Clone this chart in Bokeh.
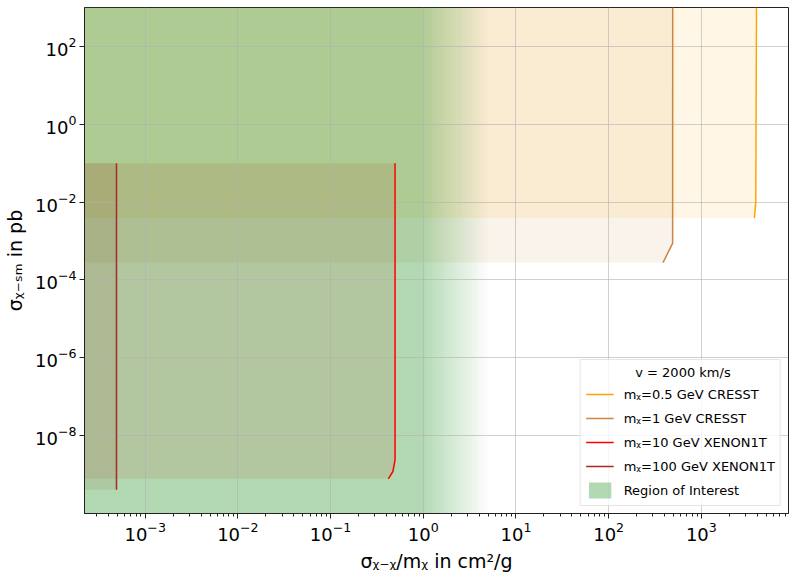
import numpy as np
from bokeh.plotting import figure
from bokeh.models import FixedTicker, Legend, LegendItem, Range1d
from bokeh.embed import file_html
from bokeh.resources import INLINE

# ---- data ----
cresst_05_x = [3936, 3866, 3740]
cresst_05_y = [1e3, 1e-2, 3.9e-3]
cresst_1_x = [491, 490, 386]
cresst_1_y = [1e3, 8.7e-4, 2.8e-4]
xenon_10_x = [0.496, 0.496, 0.47, 0.42]
xenon_10_y = [0.1, 2.4e-9, 1.2e-9, 7.8e-10]
xenon_100_x = [4.9e-4, 4.9e-4]
xenon_100_y = [0.1, 4.1e-10]
roi_x_end = 1.0          # solid region of interest up to here
roi_x_fade = 5.2         # fades out by here
roi_y = [1e-10, 1e3]

labels = ["mᵪ=0.5 GeV CRESST", "mᵪ=1 GeV CRESST", "mᵪ=10 GeV XENON1T", "mᵪ=100 GeV XENON1T"]
legend_title = "v = 2000 km/s"
colors = ["#FFA500", "#CD853F", "#FF0000", "#A52A2A"]
curves = [(cresst_05_x, cresst_05_y), (cresst_1_x, cresst_1_y),
          (xenon_10_x, xenon_10_y), (xenon_100_x, xenon_100_y)]

x_major = [1e-3, 1e-2, 1e-1, 1e0, 1e1, 1e2, 1e3]
y_major = [1e-8, 1e-6, 1e-4, 1e-2, 1e0, 1e2]

# autoscaled x-range (5% margin in log space), as matplotlib does
all_x = [v for cx, _ in curves for v in cx]
lo, hi = np.log10(min(all_x)), np.log10(max(all_x))
m = 0.05 * (hi - lo)
xlo, xhi = 10 ** (lo - m), 10 ** (hi + m)
XL = xlo / 100.0

p = figure(width=789, height=574, x_axis_type="log", y_axis_type="log",
           x_range=Range1d(xlo, xhi), y_range=Range1d(roi_y[0], roi_y[1]),
           output_backend="svg", toolbar_location=None)
p.min_border = 0
p.min_border_left = 84
p.min_border_right = 1
p.min_border_top = 7
p.min_border_bottom = 61
p.background_fill_color = "white"
p.border_fill_color = "white"
p.outline_line_color = "#222222"
p.outline_line_width = 1

# exclusion fills
for (cx, cy), c in zip(curves, colors):
    px = [XL] + list(cx) + [XL]
    py = [cy[0]] + list(cy) + [cy[-1]]
    r = p.patch(px, py, fill_color=c, fill_alpha=0.1, line_color=None)
    r.level = "image"

# region of interest with fade
green = "#008000"
roi = p.quad(left=[XL], right=[roi_x_end], bottom=[roi_y[0]], top=[roi_y[1]],
             fill_color=green, fill_alpha=0.3, line_color=None)
roi.level = "image"
N = 30
edges = np.geomspace(roi_x_end, roi_x_fade, N + 1)
for i in range(N):
    a = 0.3 * (1 - (i + 0.5) / N)
    r = p.quad(left=[edges[i]], right=[edges[i + 1]], bottom=[roi_y[0]], top=[roi_y[1]],
               fill_color=green, fill_alpha=a, line_color=None)
    r.level = "image"

line_renderers = []
for (cx, cy), c in zip(curves, colors):
    line_renderers.append(p.line(cx, cy, line_color=c, line_width=1.5))

# axes / ticks
minor = [k * 10.0 ** e for e in range(-4, 4) for k in range(2, 10)]
p.xaxis.ticker = FixedTicker(ticks=x_major, minor_ticks=minor)
p.yaxis.ticker = FixedTicker(ticks=y_major, minor_ticks=[])
for ax in (p.xaxis[0], p.yaxis[0]):
    ax.major_label_text_font = "DejaVu Sans"
    ax.major_label_text_font_size = "18px"
    ax.major_label_text_color = "black"
    ax.axis_label_text_font = "DejaVu Sans"
    ax.axis_label_text_font_size = "19px"
    ax.axis_label_text_font_style = "normal"
    ax.axis_label_text_color = "black"
    ax.axis_line_color = "#222222"
    ax.major_tick_line_color = "#222222"
    ax.minor_tick_line_color = "#222222"
    ax.major_tick_out = 5
    ax.major_tick_in = 0
    ax.minor_tick_out = 3
    ax.minor_tick_in = 0
    ax.major_label_standoff = 3
p.yaxis.axis_label_standoff = 6
p.xaxis.axis_label_standoff = 6
p.xaxis.axis_label = "σᵪ₋ᵪ/mᵪ in cm²/g"
p.yaxis.axis_label = "σᵪ₋ₛₘ in pb"

p.grid.grid_line_color = "#b0b0b0"
p.grid.grid_line_alpha = 0.6
p.grid.grid_line_width = 1

items = [LegendItem(label=l, renderers=[r]) for l, r in zip(labels, line_renderers)]
items.append(LegendItem(label="Region of Interest", renderers=[roi]))
legend = Legend(items=items, location="bottom_right", title="\u00a0" * 12 + legend_title)
legend.title_text_font = "DejaVu Sans"
legend.title_text_font_size = "13px"
legend.title_text_font_style = "normal"
legend.title_text_color = "black"
legend.label_text_font = "DejaVu Sans"
legend.label_text_font_size = "13px"
legend.label_text_color = "black"
legend.glyph_width = 28
legend.glyph_height = 20
legend.label_height = 20
legend.label_standoff = 10
legend.spacing = 4
legend.padding = 5
legend.margin = 7
legend.title_standoff = 4
legend.border_line_color = "#cccccc"
legend.background_fill_alpha = 0.8
p.add_layout(legend)

open("out.html", "w").write(file_html(p, INLINE))
